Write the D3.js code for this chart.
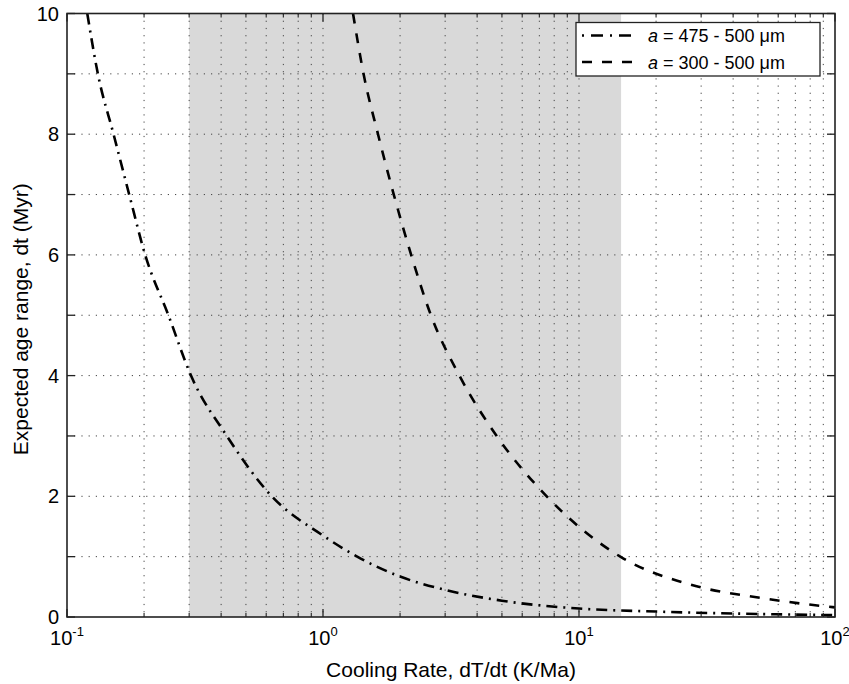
<!DOCTYPE html>
<html><head><meta charset="utf-8">
<script src="https://cdn.jsdelivr.net/npm/d3@7/dist/d3.min.js"></script>
<style>
body{margin:0;background:#fff}
text{font-family:"Liberation Sans",Arial,Helvetica,sans-serif;fill:#000}
</style>
</head><body>
<svg id="c" width="849" height="684"></svg>
<script>
// ---- data ----
const rateA = [0.12, 0.132, 0.152, 0.175, 0.202, 0.249, 0.305, 0.421, 0.631, 1.0, 1.36, 2.0, 3.0, 5.0, 10, 20, 50, 100];
const dtA   = [10, 9, 8, 7, 6, 5, 4, 3, 2, 1.35, 1.0, 0.67, 0.45, 0.27, 0.14, 0.09, 0.05, 0.03];
const rateB = [1.31, 1.44, 1.64, 1.89, 2.21, 2.64, 3.41, 4.77, 7.48, 14.5, 28.8, 52.5, 90, 100];
const dtB   = [10, 9, 8, 7, 6, 5, 4, 3, 2, 1.0, 0.51, 0.31, 0.18, 0.16];
const seriesLabels = ["475 - 500", "300 - 500"];
const shadeRange = [0.3, 14.6];
const xDecades = [0.1, 1, 10, 100];
const xExponents = ["-1", "0", "1", "2"];
const yTicks = [0,1,2,3,4,5,6,7,8,9,10];
const yTickLabels = ["0","","2","","4","","6","","8","","10"];
const xTitle = "Cooling Rate, dT/dt (K/Ma)";
const yTitle = "Expected age range, dt (Myr)";

// ---- layout ----
const L = 67, R = 835, T = 13.5, B = 617;
const svg = d3.select("#c");
const x = d3.scaleLog().domain([0.1, 100]).range([L, R]);
const y = d3.scaleLinear().domain([0, 10]).range([B, T]);

// minor ticks
const xMinor = [];
xDecades.slice(0, -1).forEach(d => { for (let k = 2; k <= 9; k++) xMinor.push(d * k); });

// shading
svg.append("rect")
  .attr("x", x(shadeRange[0])).attr("y", T)
  .attr("width", x(shadeRange[1]) - x(shadeRange[0])).attr("height", B - T)
  .attr("fill", "#d9d9d9");

// grid
const grid = svg.append("g").attr("stroke", "#444").attr("stroke-width", 1)
  .attr("stroke-dasharray", "1.2,6").attr("fill", "none");
xMinor.concat(xDecades.slice(1, -1)).forEach(v => {
  grid.append("line").attr("x1", x(v)).attr("x2", x(v)).attr("y1", T).attr("y2", B);
});
yTicks.slice(1, -1).forEach(v => {
  grid.append("line").attr("x1", L).attr("x2", R).attr("y1", y(v)).attr("y2", y(v));
});

// clip
svg.append("clipPath").attr("id", "pc").append("rect")
  .attr("x", L).attr("y", T).attr("width", R - L).attr("height", B - T);

const line = d3.line().x(d => x(d[0])).y(d => y(d[1])).curve(d3.curveMonotoneX);
const dA = rateA.map((r, i) => [r, dtA[i]]);
const dB = rateB.map((r, i) => [r, dtB[i]]);

svg.append("path").datum(dA).attr("d", line).attr("clip-path", "url(#pc)")
  .attr("fill", "none").attr("stroke", "#000").attr("stroke-width", 2.6)
  .attr("stroke-dasharray", "11,6,2,6");
svg.append("path").datum(dB).attr("d", line).attr("clip-path", "url(#pc)")
  .attr("fill", "none").attr("stroke", "#000").attr("stroke-width", 2.6)
  .attr("stroke-dasharray", "10,10");

// axes frame
const ax = svg.append("g").attr("stroke", "#222").attr("fill", "none");
ax.append("rect").attr("x", L).attr("y", T).attr("width", R - L).attr("height", B - T)
  .attr("stroke-width", 1.6);
// x ticks (bottom + top)
xDecades.forEach(v => {
  ax.append("line").attr("x1", x(v)).attr("x2", x(v)).attr("y1", B).attr("y2", B - 8).attr("stroke-width", 1.3);
  ax.append("line").attr("x1", x(v)).attr("x2", x(v)).attr("y1", T).attr("y2", T + 8).attr("stroke-width", 1.3);
});
xMinor.forEach(v => {
  ax.append("line").attr("x1", x(v)).attr("x2", x(v)).attr("y1", B).attr("y2", B - 4).attr("stroke-width", 1.1);
  ax.append("line").attr("x1", x(v)).attr("x2", x(v)).attr("y1", T).attr("y2", T + 4).attr("stroke-width", 1.1);
});
// y ticks (left + right)
yTicks.forEach(v => {
  ax.append("line").attr("x1", L).attr("x2", L + 8).attr("y1", y(v)).attr("y2", y(v)).attr("stroke-width", 1.3);
  ax.append("line").attr("x1", R).attr("x2", R - 8).attr("y1", y(v)).attr("y2", y(v)).attr("stroke-width", 1.3);
});

// y tick labels
yTicks.forEach((v, i) => {
  if (!yTickLabels[i]) return;
  svg.append("text").attr("x", L - 8).attr("y", y(v) + 7)
    .attr("text-anchor", "end").attr("font-size", 20).text(yTickLabels[i]);
});
// x tick labels 10^n
xDecades.forEach((v, i) => {
  const t = svg.append("text").attr("x", x(v)).attr("y", 645)
    .attr("text-anchor", "middle").attr("font-size", 20);
  t.append("tspan").text("10");
  t.append("tspan").attr("font-size", 13).attr("dy", -9).text(xExponents[i]);
});

// axis titles
svg.append("text").attr("x", (L + R) / 2).attr("y", 677).attr("text-anchor", "middle")
  .attr("font-size", 21).text(xTitle);
svg.append("text").attr("transform", `translate(28,${(T + B) / 2 + 4}) rotate(-90)`)
  .attr("text-anchor", "middle").attr("font-size", 21).text(yTitle);

// legend
const lg = svg.append("g");
lg.append("rect").attr("x", 576).attr("y", 22.5).attr("width", 244).attr("height", 53.5)
  .attr("fill", "#fff").attr("stroke", "#222").attr("stroke-width", 1.3);
const legItems = [
  {dash: "2,7,12,7", label: seriesLabels[0], yy: 35.5},
  {dash: "10,10", label: seriesLabels[1], yy: 62}
];
legItems.forEach(it => {
  lg.append("line").attr("x1", 582).attr("x2", 637).attr("y1", it.yy).attr("y2", it.yy)
    .attr("stroke", "#000").attr("stroke-width", 2.6).attr("stroke-dasharray", it.dash);
  const t = lg.append("text").attr("x", 648).attr("y", it.yy + 6.5).attr("font-size", 18);
  t.append("tspan").attr("font-style", "italic").text("a");
  t.append("tspan").text(" = " + it.label + " \u03BCm");
});
</script>
</body></html>
